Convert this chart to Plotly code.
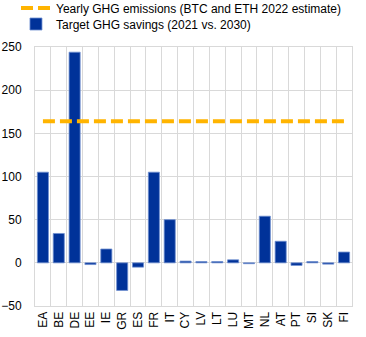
import plotly.graph_objects as go

categories = ["EA", "BE", "DE", "EE", "IE", "GR", "ES", "FR", "IT", "CY",
              "LV", "LT", "LU", "MT", "NL", "AT", "PT", "SI", "SK", "FI"]
savings = [105, 34, 244, -2, 16, -32, -5, 105, 50, 2,
           1.5, 1.5, 3.5, -1, 54, 25, -3, 1.5, -1.5, 12.5]
yearly_emissions = 164
y_ticks = [-50, 0, 50, 100, 150, 200, 250]

fig = go.Figure()
fig.add_trace(go.Bar(
    x=categories, y=savings, name="Target GHG savings (2021 vs. 2030)",
    marker=dict(color="#003299", line=dict(color="#6f8fd0", width=0.8)),
    width=0.7, legend="legend2",
))
fig.add_trace(go.Scatter(
    x=[categories[0], categories[-1]], y=[yearly_emissions, yearly_emissions],
    mode="lines", name="Yearly GHG emissions (BTC and ETH 2022 estimate)",
    line=dict(color="#FFB400", width=4, dash="12px,5px"),
    legend="legend",
))

fig.update_layout(
    width=366, height=337,
    margin=dict(l=35, r=14, t=47, b=31, autoexpand=False),
    plot_bgcolor="white", paper_bgcolor="white",
    font=dict(family="Liberation Sans, Arial", size=12, color="#000000"),
    showlegend=True,
    legend=dict(x=-0.06, xanchor="left", y=1.1506, yanchor="middle",
                bgcolor="rgba(0,0,0,0)", font=dict(size=12), itemwidth=30),
    legend2=dict(x=-0.06, xanchor="left", y=1.0888, yanchor="middle",
                 bgcolor="rgba(0,0,0,0)", font=dict(size=12), itemwidth=30),
    bargap=0.3,
)
fig.update_xaxes(
    type="category", categoryorder="array", categoryarray=categories,
    tickson="boundaries", showgrid=True, gridcolor="#d9d9d9", gridwidth=1,
    tickangle=-90, ticks="", showline=True, linecolor="#d9d9d9", mirror=True,
    range=[-0.5, len(categories) - 0.5], automargin=False,
)
fig.update_yaxes(
    range=[-50, 250], tickvals=y_ticks, showgrid=True,
    gridcolor="#d9d9d9", gridwidth=1, zeroline=True, zerolinecolor="#d9d9d9", zerolinewidth=1,
    showline=True, linecolor="#d9d9d9", mirror=True, ticks="", automargin=False,
    ticklabelstandoff=10,
)

fig.write_html("out.html")
